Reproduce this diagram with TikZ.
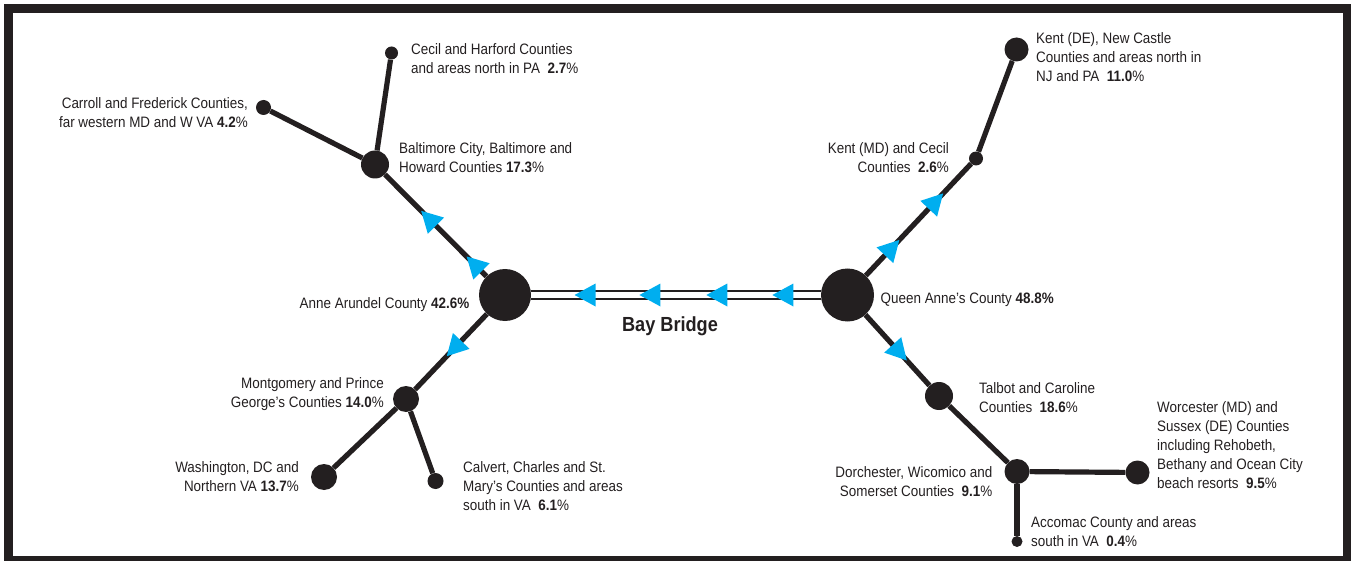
\documentclass[tikz,border=0pt]{standalone}
\usepackage{fontspec}
\setmainfont{Liberation Sans}[FakeStretch=0.89]
\usetikzlibrary{decorations.markings}
\definecolor{ink}{HTML}{231F20}
\definecolor{flow}{HTML}{00AEEF}
\newcommand{\flowtip}{\fill[flow] (10.5pt,0pt) -- (-10.5pt,11.5pt) -- (-10.5pt,-11.5pt) -- cycle;}

\begin{document}
\begin{tikzpicture}[x=1pt, y=-1pt,
    town/.style={circle, fill=ink, inner sep=0pt, minimum size=#1},
    road/.style={draw=ink, line width=5.2pt},
    bridge/.style={draw=ink, line width=1.8pt, double=white, double distance=6pt},
    flowat/.style={postaction={decorate, decoration={markings, mark=at position #1 with {\flowtip}}}},
    lbl/.style={inner sep=0pt, text=ink, font=\fontsize{15.1}{19}\selectfont}]
    \useasboundingbox (0,0) rectangle (1351,561);
    \draw[ink, line width=8.5pt] (8.3,8.5) rectangle (1347.5,560.5);
    \node[town=52pt] (aa) at (505,295) {};
    \node[town=53pt] (qa) at (847.5,295) {};
    \node[town=28pt] (balt) at (375,164.5) {};
    \node[town=13pt] (cecil) at (391.5,53) {};
    \node[town=15pt] (carroll) at (263.5,107.5) {};
    \node[town=26pt] (mont) at (406,399) {};
    \node[town=26pt] (wash) at (324,477) {};
    \node[town=16pt] (calvert) at (435.5,481) {};
    \node[town=14pt] (kentmd) at (976,158.5) {};
    \node[town=24pt] (kentde) at (1016.5,49.5) {};
    \node[town=28pt] (talbot) at (939,396) {};
    \node[town=25pt] (dorch) at (1017,471.5) {};
    \node[town=24pt] (worc) at (1137.5,472.5) {};
    \node[town=11pt] (accomac) at (1017,541.5) {};
    \draw[bridge, flowat=0.131, flowat=0.359, flowat=0.59, flowat=0.814] (qa) -- (aa);
    \draw[road, flowat=0.123, flowat=0.571] (aa) -- (balt);
    \draw[road] (balt) -- (cecil);
    \draw[road] (balt) -- (carroll);
    \draw[road, flowat=0.459] (aa) -- (mont);
    \draw[road] (mont) -- (wash);
    \draw[road] (mont) -- (calvert);
    \draw[road, flowat=0.25, flowat=0.666] (qa) -- (kentmd);
    \draw[road] (kentmd) -- (kentde);
    \draw[road, flowat=0.537] (qa) -- (talbot);
    \draw[road] (talbot) -- (dorch);
    \draw[road] (dorch) -- (worc);
    \draw[road] (dorch) -- (accomac);
    \node[lbl, anchor=north west, align=left] (cecillbl) at (411,43) {Cecil and Harford Counties\\and areas north in PA\ \ \textbf{2.7}\%};
    \node[lbl, anchor=north east, align=right] (carrolllbl) at (248,97) {Carroll and Frederick Counties,\\far western MD and W VA \textbf{4.2}\%};
    \node[lbl, anchor=north west, align=left] (baltlbl) at (399,142) {Baltimore City, Baltimore and\\Howard Counties \textbf{17.3}\%};
    \node[lbl, anchor=north west, align=left] (kentdelbl) at (1036,32) {Kent (DE), New Castle\\Counties and areas north in\\NJ and PA\ \ \textbf{11.0}\%};
    \node[lbl, anchor=north east, align=right] (kentmdlbl) at (949,142) {Kent (MD) and Cecil\\Counties\ \ \textbf{2.6}\%};
    \node[lbl, anchor=north east] (aalbl) at (469.5,297) {Anne Arundel County \textbf{42.6\%}};
    \node[lbl, anchor=north west] (qalbl) at (880.5,293) {Queen Anne’s County \textbf{48.8\%}};
    \node[lbl, anchor=north east, align=right] (montlbl) at (384,377) {Montgomery and Prince\\George’s Counties \textbf{14.0}\%};
    \node[lbl, anchor=north east, align=right] (washlbl) at (299,461) {Washington, DC and\\Northern VA \textbf{13.7}\%};
    \node[lbl, anchor=north west, align=left] (calvertlbl) at (463,461) {Calvert, Charles and St.\\Mary’s Counties and areas\\south in VA\ \ \textbf{6.1}\%};
    \node[lbl, anchor=north west, align=left] (talbotlbl) at (979,382) {Talbot and Caroline\\Counties\ \ \textbf{18.6}\%};
    \node[lbl, anchor=north west, align=left] (worclbl) at (1157,401) {Worcester (MD) and\\Sussex (DE) Counties\\including Rehobeth,\\Bethany and Ocean City\\beach resorts\ \ \textbf{9.5}\%};
    \node[lbl, anchor=north east, align=right] (dorchlbl) at (992.5,466) {Dorchester, Wicomico and\\Somerset Counties\ \ \textbf{9.1}\%};
    \node[lbl, anchor=north west, align=left] (accomaclbl) at (1031,516) {Accomac County and areas\\south in VA\ \ \textbf{0.4}\%};
    \node[inner sep=0pt, anchor=base, text=ink, font=\fontsize{20.4}{24}\selectfont\bfseries] (baybridge) at (670,331.5) {Bay Bridge};
\end{tikzpicture}
\end{document}
